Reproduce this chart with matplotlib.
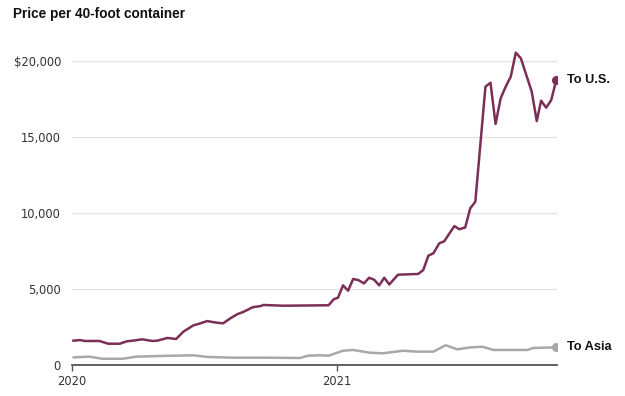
import matplotlib
matplotlib.use("Agg")
import matplotlib.pyplot as plt
import pandas as pd

# Prezzi (USD per container da 40 piedi)
us_dates = [
    "2020-01-03", "2020-01-12", "2020-01-19", "2020-02-08", "2020-02-20",
    "2020-03-07", "2020-03-17", "2020-03-25", "2020-04-07", "2020-04-21",
    "2020-04-28", "2020-05-12", "2020-05-24", "2020-06-03", "2020-06-17",
    "2020-06-24", "2020-07-06", "2020-07-17", "2020-07-28", "2020-08-07",
    "2020-08-17", "2020-08-25", "2020-09-07", "2020-09-18", "2020-09-22",
    "2020-10-19", "2020-12-21", "2020-12-28", "2021-01-03", "2021-01-10",
    "2021-01-17", "2021-01-24", "2021-01-31", "2021-02-08", "2021-02-15",
    "2021-02-22", "2021-03-01", "2021-03-08", "2021-03-15", "2021-03-27",
    "2021-04-24", "2021-05-01", "2021-05-08", "2021-05-15", "2021-05-23",
    "2021-05-30", "2021-06-13", "2021-06-20", "2021-06-28", "2021-07-05",
    "2021-07-12", "2021-07-26", "2021-08-02", "2021-08-09", "2021-08-16",
    "2021-08-23", "2021-08-30", "2021-09-06", "2021-09-13", "2021-09-19",
    "2021-09-28", "2021-10-05", "2021-10-11", "2021-10-18", "2021-10-25",
    "2021-11-01",
]
us_prices = [
    1600, 1640, 1580, 1580, 1400,
    1400, 1560, 1600, 1690, 1580,
    1600, 1780, 1710, 2190, 2610,
    2700, 2890, 2800, 2740, 3070,
    3350, 3490, 3800, 3880, 3950,
    3900, 3930, 4320, 4430, 5240,
    4890, 5660, 5590, 5370, 5740,
    5610, 5240, 5740, 5300, 5940,
    5990, 6250, 7190, 7350, 8000,
    8140, 9140, 8930, 9050, 10310,
    10740, 18310, 18570, 15860, 17540,
    18310, 18970, 20550, 20180, 19300,
    17990, 16050, 17390, 16930, 17430,
    18750,
]

asia_dates = [
    "2020-01-03", "2020-01-25", "2020-02-12", "2020-03-11", "2020-03-30",
    "2020-04-30", "2020-06-17", "2020-07-06", "2020-08-11", "2020-09-27",
    "2020-11-12", "2020-11-22", "2020-12-10", "2020-12-21", "2021-01-10",
    "2021-01-24", "2021-02-16", "2021-03-06", "2021-04-03", "2021-04-22",
    "2021-05-15", "2021-06-01", "2021-06-17", "2021-07-05", "2021-07-22",
    "2021-08-06", "2021-09-22", "2021-09-30", "2021-11-01",
]
asia_prices = [
    500, 550, 410, 410, 550,
    590, 640, 530, 480, 480,
    460, 610, 640, 610, 940,
    990, 810, 770, 940, 880,
    880, 1300, 1030, 1160, 1200,
    990, 990, 1120, 1160,
]

y_ticks = [0, 5000, 10000, 15000, 20000]
y_tick_labels = ["0", "5,000", "10,000", "15,000", "$20,000"]
x_ticks = ["2020-01-01", "2021-01-01"]
x_tick_labels = ["2020", "2021"]

US_COLOR = "#7b2f57"
ASIA_COLOR = "#a8a8a8"
BOLD_FONT = ["Liberation Sans", "DejaVu Sans"]

us_dates = pd.to_datetime(us_dates)
asia_dates = pd.to_datetime(asia_dates)

fig = plt.figure(figsize=(6.25, 3.96), dpi=100)
ax = fig.add_axes([72 / 625, 31 / 396, 485 / 625, 319.2 / 396])

# Linee
ax.plot(asia_dates, asia_prices, color=ASIA_COLOR, lw=1.8, solid_capstyle="round", zorder=3)
ax.plot(us_dates, us_prices, color=US_COLOR, lw=1.8, zorder=4)
ax.plot(asia_dates[-1], asia_prices[-1], "o", color=ASIA_COLOR, ms=5.5, zorder=5)
ax.plot(us_dates[-1], us_prices[-1], "o", color=US_COLOR, ms=5.5, zorder=5)

# Etichette di fine serie
ax.annotate("To U.S.", (us_dates[-1], us_prices[-1]), xytext=(8, 0),
            textcoords="offset points", va="center", ha="left",
            family=BOLD_FONT, fontsize=9.2, fontweight="bold",
            color="#111111", annotation_clip=False)
ax.annotate("To Asia", (asia_dates[-1], asia_prices[-1]), xytext=(8, 0),
            textcoords="offset points", va="center", ha="left",
            family=BOLD_FONT, fontsize=9.2, fontweight="bold",
            color="#111111", annotation_clip=False)

# Assi
ax.set_ylim(0, 21000)
ax.set_xlim(pd.Timestamp("2020-01-01"), pd.Timestamp("2021-11-02"))
ax.set_yticks(y_ticks)
ax.set_yticklabels(y_tick_labels)
ax.set_xticks(pd.to_datetime(x_ticks))
ax.set_xticklabels(x_tick_labels)
ax.tick_params(axis="y", length=0, pad=8, labelsize=8.3, labelcolor="#333333")
ax.tick_params(axis="x", length=4, width=1, color="#555555", pad=3,
               labelsize=8.3, labelcolor="#333333")

ax.grid(axis="y", color="#e2e2e2", lw=1)
ax.grid(axis="x", visible=False)
ax.set_axisbelow(True)
for side in ["top", "right", "left"]:
    ax.spines[side].set_visible(False)
ax.spines["bottom"].set_color("#555555")
ax.spines["bottom"].set_linewidth(1.3)

# Titolo
fig.text(13 / 625, 1 - 14 / 396, "Price per 40-foot container",
         family=BOLD_FONT, fontweight="bold",
         fontsize=9.8, va="center", ha="left", color="#111111")

fig.savefig("out.png", dpi=100)
